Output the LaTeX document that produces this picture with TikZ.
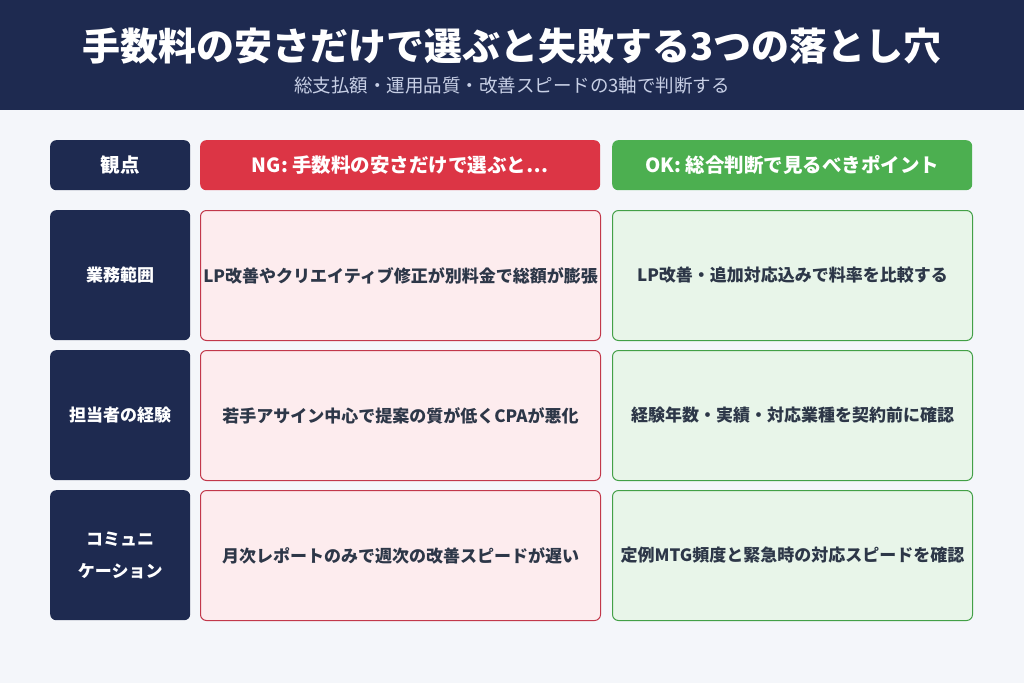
\documentclass[tikz,border=0pt]{standalone}
\usepackage{fontspec}
\setmainfont{Noto Sans CJK JP}
\definecolor{navy}{HTML}{1E2A50}
\definecolor{bg}{HTML}{F4F6FA}
\definecolor{ngred}{HTML}{DC3545}
\definecolor{ngfill}{HTML}{FDECEE}
\definecolor{ngline}{HTML}{C2384A}
\definecolor{okgreen}{HTML}{4CAF50}
\definecolor{okline}{HTML}{43A047}
\definecolor{okfill}{HTML}{E8F5E9}
\definecolor{txt}{HTML}{2D3748}
\definecolor{sub}{HTML}{C8D0E6}
\tikzset{x=1pt,y=-1pt,
 cell/.style={rounded corners=6pt,minimum height=#1,anchor=north west,inner sep=0pt,font=\fontsize{17}{20}\selectfont\bfseries,text=txt,align=center},
 lab/.style={cell=130pt,minimum width=140pt,fill=navy,text=white},
 ng/.style={cell=130pt,minimum width=400pt,fill=ngfill,draw=ngline,line width=1pt},
 ok/.style={cell=130pt,minimum width=360pt,fill=okfill,draw=okline,line width=1pt},
 hd/.style={cell=50pt,text=white,font=\fontsize{19.5}{22}\selectfont\bfseries}}
\begin{document}
\begin{tikzpicture}
\fill[bg] (0,0) rectangle (1024,683);
\useasboundingbox (0,0) rectangle (1024,683);
\fill[navy] (0,0) rectangle (1024,110);
\node[text=white,font=\fontsize{38}{42}\selectfont\bfseries] (title) at (512,46) {手数料の安さだけで選ぶと失敗する3つの落とし穴};
\node[text=sub,font=\fontsize{18.5}{21}\selectfont] (subtitle) at (512,86) {総支払額・運用品質・改善スピードの3軸で判断する};
\node[hd,minimum width=140pt,fill=navy] (h1) at (50,140) {観点};
\node[hd,minimum width=400pt,fill=ngred] (h2) at (200,140) {NG: 手数料の安さだけで選ぶと…};
\node[hd,minimum width=360pt,fill=okgreen] (h3) at (612,140) {OK: 総合判断で見るべきポイント};
\node[lab] (l1) at (50,210) {業務範囲};
\node[ng] (n1) at (200,210) {LP改善やクリエイティブ修正が別料金で総額が膨張};
\node[ok] (o1) at (612,210) {LP改善・追加対応込みで料率を比較する};
\node[lab] (l2) at (50,350) {担当者の経験};
\node[ng] (n2) at (200,350) {若手アサイン中心で提案の質が低くCPAが悪化};
\node[ok] (o2) at (612,350) {経験年数・実績・対応業種を契約前に確認};
\node[lab,font=\fontsize{17}{32}\selectfont\bfseries] (l3) at (50,490) {コミュニ\\ケーション};
\node[ng] (n3) at (200,490) {月次レポートのみで週次の改善スピードが遅い};
\node[ok] (o3) at (612,490) {定例MTG頻度と緊急時の対応スピードを確認};
\end{tikzpicture}
\end{document}
